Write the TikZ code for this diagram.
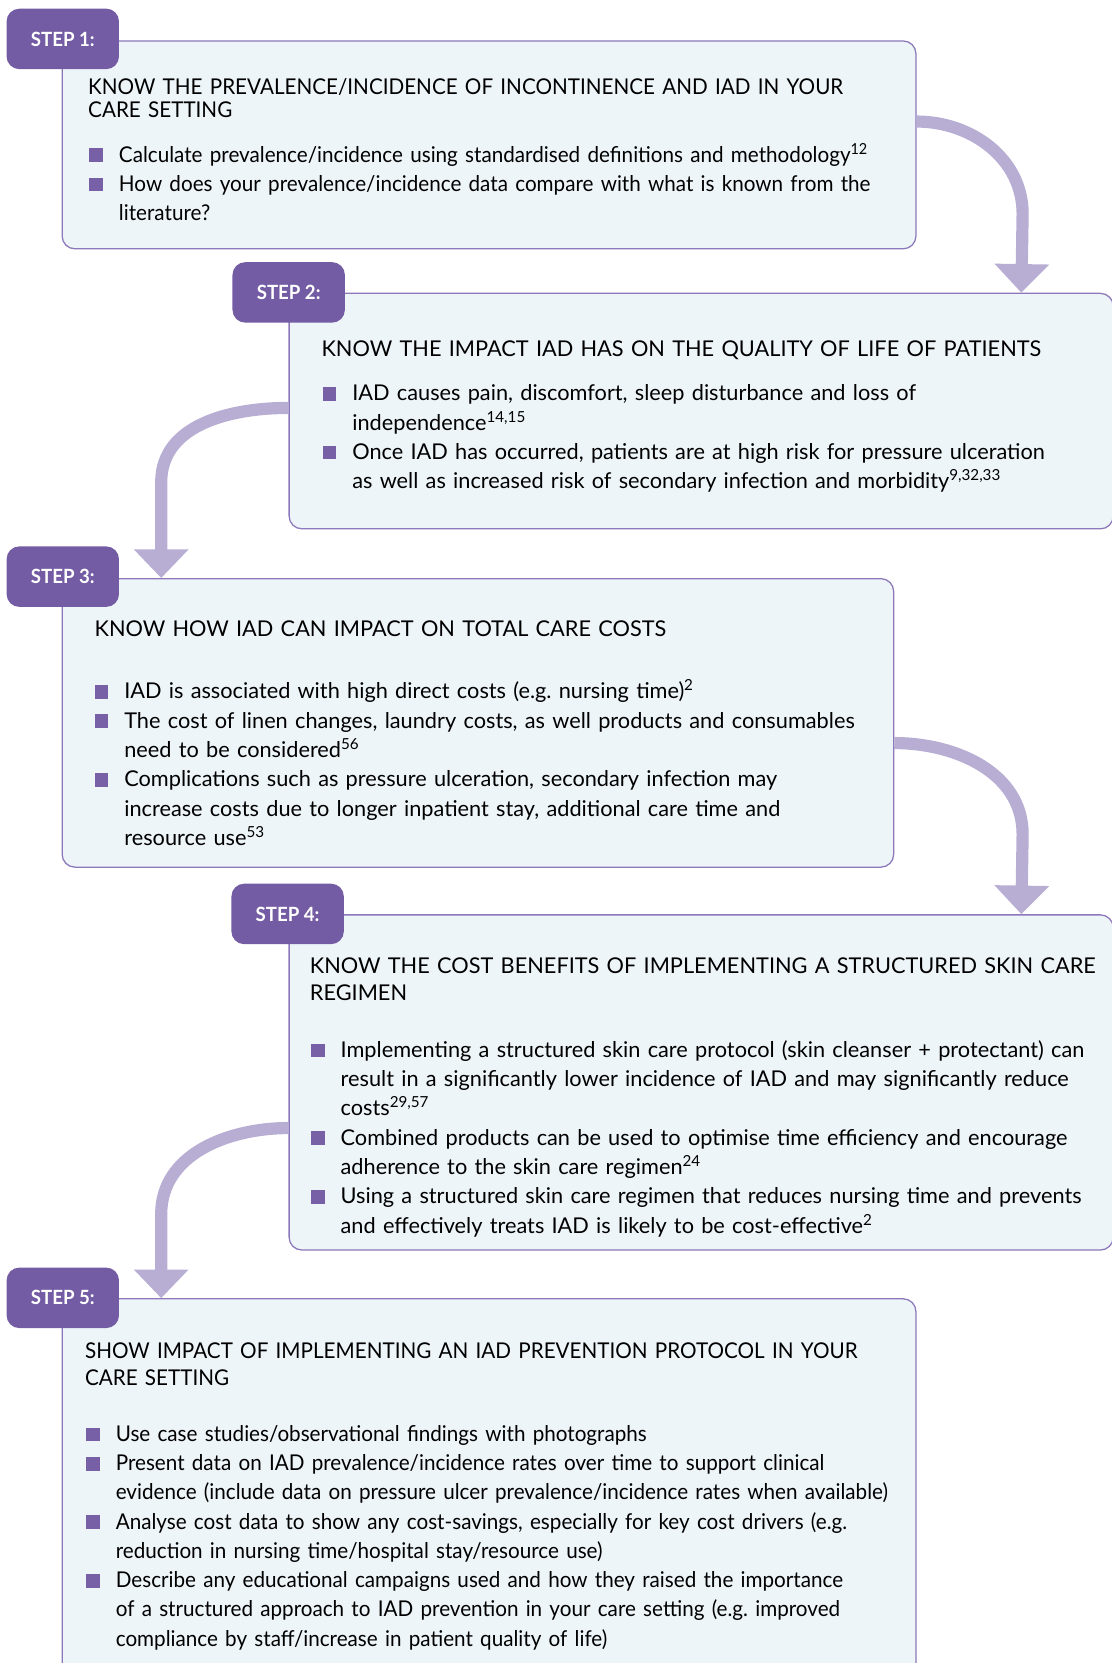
\documentclass[tikz,border=0pt]{standalone}
\usepackage{fontspec}
\setmainfont{Lato}
\newfontfamily\tightfont{Lato}[FakeStretch=0.95]
\usepackage{xcolor}
\usepackage{tikz}
\usetikzlibrary{arrows.meta, positioning}

\definecolor{stepviolet}{RGB}{115,92,163}
\definecolor{boxline}{RGB}{140,120,186}
\definecolor{boxfill}{RGB}{238,245,249}
\definecolor{flowlilac}{RGB}{184,174,212}
\definecolor{bulletviolet}{RGB}{120,96,166}

\setlength{\parskip}{0pt}
\frenchspacing
\newcommand{\sqitem}{\noindent\hangindent=28pt\hangafter=1\makebox[28pt][l]{\textcolor{bulletviolet}{\rule{13pt}{13pt}}}}

\begin{document}
\begin{tikzpicture}[
        x=1pt, y=-1pt,
        every node/.style={inner sep=0pt},
        stepframe/.style={rectangle, rounded corners=12pt, draw=boxline, line width=1.2pt, fill=boxfill, anchor=north west},
        steptab/.style={rectangle, rounded corners=12pt, fill=stepviolet, text=white, font=\tightfont\fontsize{18.5}{22}\selectfont\bfseries, minimum width=106pt, minimum height=57pt, anchor=north west},
        steptitle/.style={anchor=base west, text width=1000pt, align=left, font=\fontsize{20.5}{25}\selectfont},
        steplist/.style={anchor=base west, text width=1000pt, align=left, font=\fontsize{20.5}{27.6}\selectfont},
        flow/.style={draw=flowlilac, line width=11.5pt, -{Triangle[width=50pt,length=27pt]}}
    ]
        \useasboundingbox (0,0) rectangle (1048,1568);

        \node[stepframe, minimum width=805pt, minimum height=196pt] (know1) at (58,38) {};
        \node[stepframe, minimum width=777pt, minimum height=222pt] (know2) at (272,276) {};
        \node[stepframe, minimum width=784pt, minimum height=272pt] (know3) at (58,545) {};
        \node[stepframe, minimum width=777pt, minimum height=316pt] (know4) at (272,862) {};
        \node[stepframe, minimum width=805pt, minimum height=366pt] (show5) at (58,1224) {};

        \node[steptab] (step1) at ([xshift=-52pt, yshift=30pt]know1.north west) {STEP 1:};
        \node[steptab] (step2) at ([xshift=-53pt, yshift=29pt]know2.north west) {STEP 2:};
        \node[steptab] (step3) at ([xshift=-52pt, yshift=30pt]know3.north west) {STEP 3:};
        \node[steptab] (step4) at ([xshift=-54pt, yshift=29pt]know4.north west) {STEP 4:};
        \node[steptab] (step5) at ([xshift=-52pt, yshift=29pt]show5.north west) {STEP 5:};

        % step 1
        \node[steptitle, font=\tightfont\fontsize{20.5}{22}\selectfont] (title1) at (83,89) {KNOW THE PREVALENCE/INCIDENCE OF INCONTINENCE AND IAD IN YOUR\\ CARE SETTING};
        \node[steplist, font=\tightfont\fontsize{20.5}{27.4}\selectfont] (list1) at (84,153) {%
            \sqitem Calculate prevalence/incidence using standardised definitions and methodology\textsuperscript{12}\par
            \sqitem How does your prevalence/incidence data compare with what is known from the\newline literature?\par};

        % step 2
        \node[steptitle] (title2) at (303,336) {KNOW THE IMPACT IAD HAS ON THE QUALITY OF LIFE OF PATIENTS};
        \node[steplist] (list2) at (304,378) {%
            \sqitem IAD causes pain, discomfort, sleep disturbance and loss of\newline independence\textsuperscript{14,15}\par
            \sqitem Once IAD has occurred, patients are at high risk for pressure ulceration\newline as well as increased risk of secondary infection and morbidity\textsuperscript{9,32,33}\par};

        % step 3
        \node[steptitle] (title3) at (89,600) {KNOW HOW IAD CAN IMPACT ON TOTAL CARE COSTS};
        \node[steplist] (list3) at (89,659) {%
            \sqitem IAD is associated with high direct costs (e.g. nursing time)\textsuperscript{2}\par
            \sqitem The cost of linen changes, laundry costs, as well products and consumables\newline need to be considered\textsuperscript{56}\par
            \sqitem Complications such as pressure ulceration, secondary infection may\newline increase costs due to longer inpatient stay, additional care time and\newline resource use\textsuperscript{53}\par};

        % step 4
        \node[steptitle] (title4) at (292,918) {KNOW THE COST BENEFITS OF IMPLEMENTING A STRUCTURED SKIN CARE\\ REGIMEN};
        \node[steplist] (list4) at (293,997) {%
            \sqitem Implementing a structured skin care protocol (skin cleanser + protectant) can\newline result in a significantly lower incidence of IAD and may significantly reduce\newline costs\textsuperscript{29,57}\par
            \sqitem Combined products can be used to optimise time efficiency and encourage\newline adherence to the skin care regimen\textsuperscript{24}\par
            \sqitem Using a structured skin care regimen that reduces nursing time and prevents\newline and effectively treats IAD is likely to be cost-effective\textsuperscript{2}\par};

        % step 5
        \node[steptitle, font=\tightfont\fontsize{20.5}{25.5}\selectfont] (title5) at (80,1281) {SHOW IMPACT OF IMPLEMENTING AN IAD PREVENTION PROTOCOL IN YOUR\\ CARE SETTING};
        \node[steplist, font=\tightfont\fontsize{20.5}{27.6}\selectfont] (list5) at (81,1359) {%
            \sqitem Use case studies/observational findings with photographs\par
            \sqitem Present data on IAD prevalence/incidence rates over time to support clinical\newline evidence (include data on pressure ulcer prevalence/incidence rates when available)\par
            \sqitem Analyse cost data to show any cost-savings, especially for key cost drivers (e.g.\newline reduction in nursing time/hospital stay/resource use)\par
            \sqitem Describe any educational campaigns used and how they raised the importance\newline of a structured approach to IAD prevention in your care setting (e.g. improved\newline compliance by staff/increase in patient quality of life)\par};

        \draw[flow] ([yshift=22pt]know1.east) to[out=0, in=90] ++(100,87) -- ([xshift=691pt]know2.north west);
        \draw[flow] ([yshift=3pt]know2.west) to[out=180, in=90] ++(-120,70) -- ([xshift=94pt]know3.north west);
        \draw[flow] ([yshift=-19pt]know3.east) to[out=0, in=90] ++(121,86) -- ([xshift=691pt]know4.north west);
        \draw[flow] ([yshift=-43pt]know4.west) to[out=180, in=90] ++(-120,81) -- ([xshift=94pt]show5.north west);

    \end{tikzpicture}
\end{document}
